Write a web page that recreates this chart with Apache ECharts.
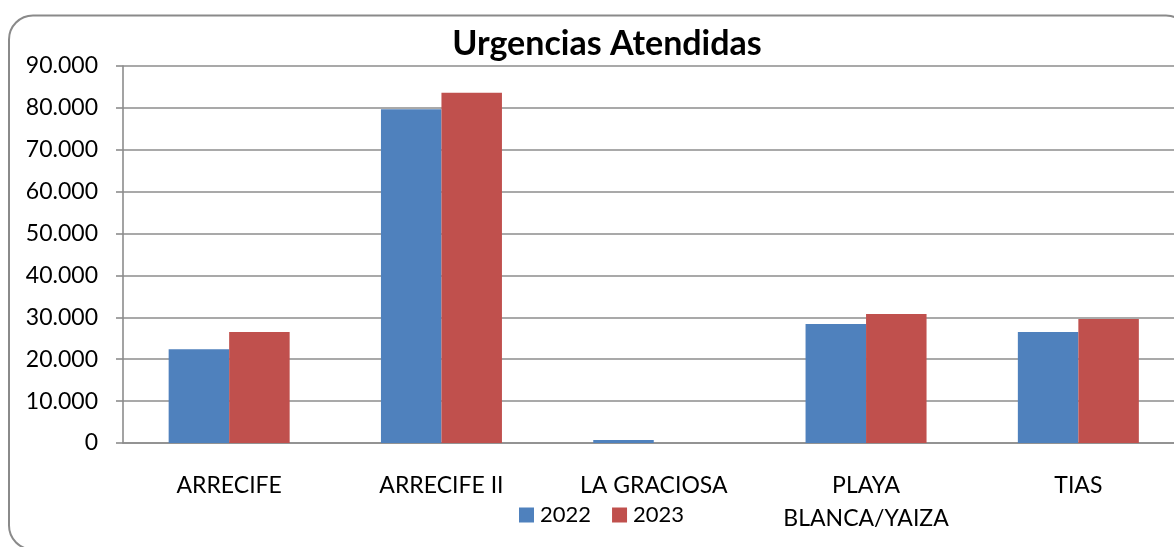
<!DOCTYPE html>
<html>
<head>
<meta charset="utf-8">
<title>Urgencias Atendidas</title>
<script src="https://cdn.jsdelivr.net/npm/echarts@6/dist/echarts.min.js"></script>
<style>
	html, body { margin: 0; padding: 0; background: #fff; overflow: hidden; }
	/* el gráfico original se sale un poco por la derecha */
	#chart { width: 1200px; height: 547px; }
</style>
</head>
<body>
<div id="chart"></div>
<script>
// datos
const categories = ["ARRECIFE", "ARRECIFE II", "LA GRACIOSA", "PLAYA\nBLANCA/YAIZA", "TIAS"];
const years = ["2022", "2023"];
const values2022 = [22400, 79700, 700, 28400, 26500];
const values2023 = [26500, 83600, 0, 30800, 29600];
const yTicks = { min: 0, max: 90000, interval: 10000 };

const FONT = "Lato, 'Liberation Sans', sans-serif";
const GRAY = "#8c8c8c";

const chart = echarts.init(document.getElementById("chart"), null, { renderer: "canvas" });

// separador de miles estilo es-ES
const fmt = v => (v === 0 ? "0" : String(v).replace(/\B(?=(\d{3})+(?!\d))/g, "."));

const option = {
	animation: false,
	backgroundColor: "#fff",
	graphic: [
		{
			type: "rect",
			shape: { x: 9, y: 15.5, width: 1181, height: 534, r: 24 },
			style: { fill: "none", stroke: "#8a8a8a", lineWidth: 2 },
			z: -1
		},
		{
			type: "text",
			x: 607,
			y: 44,
			style: {
				text: "Urgencias Atendidas",
				font: "bold 34px " + FONT,
				fill: "#000",
				align: "center",
				verticalAlign: "middle"
			}
		}
	],
	legend: {
		data: years,
		left: 519,
		top: 503,
		padding: 0,
		itemWidth: 15,
		itemHeight: 15,
		itemGap: 21,
		icon: "rect",
		textStyle: { fontFamily: FONT, fontSize: 22, color: "#000", lineHeight: 24, padding: [0, 0, 0, 1] }
	},
	grid: {
		left: 123,
		right: 15.5,
		top: 66,
		bottom: 104,
		containLabel: false
	},
	xAxis: {
		type: "category",
		data: categories,
		axisLine: { lineStyle: { color: GRAY, width: 1.6 } },
		axisTick: { length: 8, lineStyle: { color: GRAY, width: 1.6 } },
		axisLabel: {
			fontFamily: FONT,
			fontSize: 23,
			color: "#000",
			lineHeight: 33,
			margin: 26,
			interval: 0,
			verticalAlign: "top"
		}
	},
	yAxis: {
		type: "value",
		min: yTicks.min,
		max: yTicks.max,
		interval: yTicks.interval,
		axisLine: { show: true, lineStyle: { color: GRAY, width: 1.6 } },
		axisTick: { show: true, length: 7, lineStyle: { color: GRAY, width: 1.6 } },
		splitLine: { lineStyle: { color: GRAY, width: 1.6 } },
		axisLabel: {
			fontFamily: FONT,
			fontSize: 23,
			color: "#000",
			margin: 25,
			formatter: fmt
		}
	},
	series: [
		{
			name: years[0],
			type: "bar",
			data: values2022,
			barWidth: 60.5,
			barGap: "0%",
			itemStyle: { color: "#4f81bd" }
		},
		{
			name: years[1],
			type: "bar",
			data: values2023,
			barWidth: 60.5,
			itemStyle: { color: "#c0504d" }
		}
	]
};

chart.setOption(option);
</script>
</body>
</html>
